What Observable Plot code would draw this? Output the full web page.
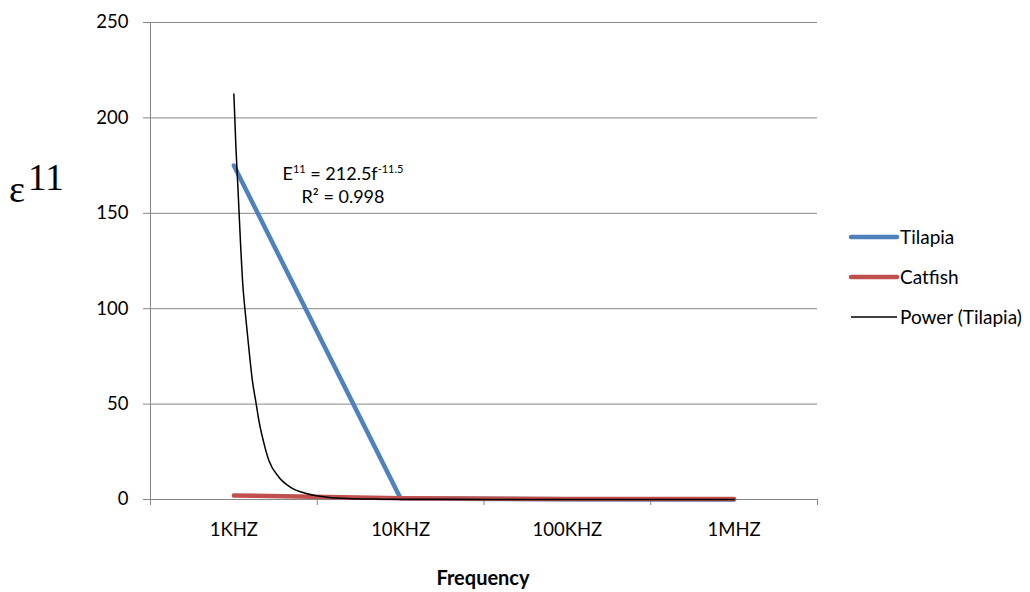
<!DOCTYPE html>
<html>
<head>
<meta charset="utf-8">
<script src="https://cdn.jsdelivr.net/npm/d3@7"></script>
<script src="https://cdn.jsdelivr.net/npm/@observablehq/plot@0.6"></script>
<style>
  html, body { margin: 0; padding: 0; background: #fff; }
  #wrap { position: relative; width: 1030px; height: 592px; font-family: Lato, "Open Sans", sans-serif; color: #000; }
  #wrap svg { position: absolute; left: 0; top: 0; }
</style>
</head>
<body>
<div id="wrap"></div>
<script>
const categories = ["1KHZ", "10KHZ", "100KHZ", "1MHZ"];
const tilapia = [175, 0.5, 0.1, 0.05];
const catfish = [2.1, 0.6, 0.2, 0.2];
const powerX = [1, 1.012, 1.024, 1.04, 1.054, 1.066, 1.09, 1.11, 1.134, 1.15, 1.176, 1.21, 1.27, 1.34, 1.44, 1.56, 1.68, 1.85, 2, 2.5, 3, 3.5, 4];
const powerY = [212.5, 185, 164, 134, 112, 100, 79, 63, 50, 41.4, 31, 20.4, 11.7, 6.4, 3.0, 1.2, 0.5, 0.2, 0.1, 0.05, 0.03, 0.02, 0.01];
const yTicks = [0, 50, 100, 150, 200, 250];
const seriesNames = ["Tilapia", "Catfish", "Power (Tilapia)"];
const seriesColors = ["#4F81BD", "#C0504D", "#000000"];
const seriesWidths = [4.5, 4.5, 1.5];

const tilapiaRows = tilapia.map((v, i) => ({i: i + 1, v}));
const catfishRows = catfish.map((v, i) => ({i: i + 1, v}));
const powerRows = powerX.map((x, k) => ({i: x, v: powerY[k]}));
const bandEdges = d3.range(categories.length + 1).map(k => k + 0.5);
const centers = categories.map((c, k) => k + 1);

const chart = Plot.plot({
  width: 1030,
  height: 592,
  marginTop: 22,
  marginRight: 213,
  marginBottom: 93,
  marginLeft: 150,
  style: {fontFamily: "Lato, 'Open Sans', sans-serif", fontSize: "18px", background: "transparent", overflow: "visible"},
  x: {domain: [0.5, categories.length + 0.5]},
  y: {domain: [0, 250]},
  marks: [
    Plot.gridY(yTicks, {stroke: "#868686", strokeOpacity: 1, strokeWidth: 1}),
    Plot.axisY(yTicks, {tickSize: 7, tickPadding: 15, stroke: "#868686", strokeOpacity: 1, fill: "#000", fontSize: 18.5, label: null}),
    Plot.axisX(bandEdges, {tickSize: 6, stroke: "#868686", strokeOpacity: 1, fill: null, label: null}),
    Plot.axisX(centers, {tickSize: 0, tickPadding: 23, fill: "#000", fontSize: 18.5, label: null, tickFormat: d => categories[d - 1]}),
    Plot.frame({anchor: "left", stroke: "#868686", strokeWidth: 1}),
    Plot.frame({anchor: "bottom", stroke: "#868686", strokeWidth: 1}),
    Plot.line(tilapiaRows, {x: "i", y: "v", stroke: seriesColors[0], strokeWidth: seriesWidths[0], strokeLinecap: "round"}),
    Plot.line(catfishRows, {x: "i", y: "v", stroke: seriesColors[1], strokeWidth: seriesWidths[1], strokeLinecap: "round"}),
    Plot.line(powerRows, {x: "i", y: "v", stroke: seriesColors[2], strokeWidth: seriesWidths[2], curve: "monotone-x"})
  ]
});

const wrap = document.getElementById("wrap");
wrap.appendChild(chart);

// overlay for titles, annotation and legend
const svg = d3.select(wrap).append("svg")
  .attr("width", 1030).attr("height", 592)
  .style("font-family", "Lato, 'Open Sans', sans-serif");

// y label
const serif = "'Liberation Serif', 'DejaVu Serif', serif";
svg.append("text").attr("x", 9).attr("y", 202).attr("font-family", serif).attr("font-size", 38).text("ε");
svg.append("text").attr("x", 28).attr("y", 190).attr("font-family", serif).attr("font-size", 37).text("11");

// x title
svg.append("text").attr("x", 483).attr("y", 585).attr("text-anchor", "middle")
  .attr("font-size", 20).attr("font-weight", "bold").text("Frequency");

// trendline equation
const eq = svg.append("text").attr("x", 343).attr("y", 180).attr("text-anchor", "middle").attr("font-size", 18);
eq.append("tspan").text("E");
eq.append("tspan").attr("font-size", 11).attr("dy", -7).text("11");
eq.append("tspan").attr("dy", 7).text(" = 212.5f");
eq.append("tspan").attr("font-size", 11).attr("dy", -7).text("-11.5");
svg.append("text").attr("x", 343).attr("y", 203).attr("text-anchor", "middle").attr("font-size", 18).text("R² = 0.998");

// legend
const legY = [237, 277, 317];
seriesNames.forEach((name, k) => {
  svg.append("line").attr("x1", 851).attr("x2", 897).attr("y1", legY[k]).attr("y2", legY[k])
    .attr("stroke", seriesColors[k]).attr("stroke-width", seriesWidths[k])
    .attr("stroke-linecap", k < 2 ? "round" : "butt");
  svg.append("text").attr("x", 900).attr("y", legY[k] + 7).attr("font-size", 19).text(name);
});
</script>
</body>
</html>
